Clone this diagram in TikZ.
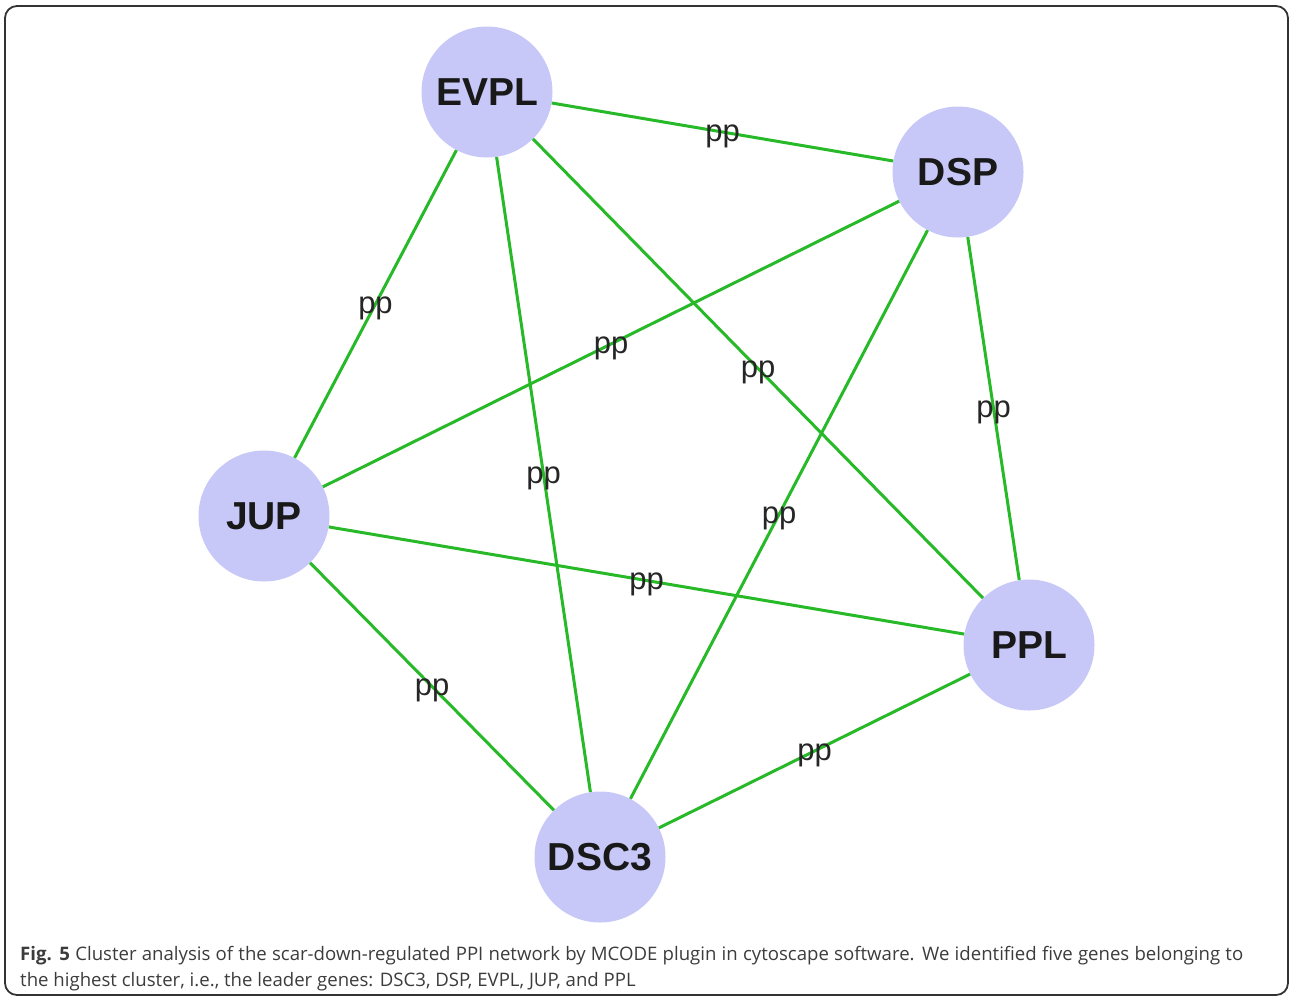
\documentclass[tikz,border=0pt]{standalone}
\usepackage{fontspec}
\setmainfont{Liberation Sans}
\newfontfamily\capfont{Open Sans}
\definecolor{nodefill}{RGB}{200,200,248}
\definecolor{edgegreen}{RGB}{40,185,40}
\definecolor{captext}{RGB}{60,60,60}
\begin{document}
\begin{tikzpicture}[x=1pt,y=-1pt,
  gene/.style={circle, fill=nodefill, minimum size=131pt, inner sep=0pt,
    font=\fontsize{39}{46}\selectfont\bfseries, text=black!90},
  link/.style={draw=edgegreen, line width=3pt},
  lbl/.style={font=\fontsize{31}{34}\selectfont, inner sep=0pt, text=black!85, yshift=-4pt},
  capline/.style={anchor=base west, inner sep=0pt, text=captext,
    font=\capfont\fontsize{18.6}{26}\selectfont}]
\useasboundingbox (0,0) rectangle (1290,997);
\draw[rounded corners=12pt, line width=1.8pt, draw=black!80] (5,6) rectangle (1288,995);
\node[gene] (evpl) at (487,92) {EVPL};
\node[gene] (dsp) at (958,172) {DSP};
\node[gene] (jup) at (264,516) {JUP};
\node[gene] (ppl) at (1029,645) {PPL};
\node[gene] (dsc3) at (600,857) {DSC3};
\draw[link] (evpl) -- node[lbl]{pp} (dsp);
\draw[link] (evpl) -- node[lbl]{pp} (jup);
\draw[link] (dsp) -- node[lbl]{pp} (jup);
\draw[link] (evpl) -- node[lbl]{pp} (ppl);
\draw[link] (dsp) -- node[lbl]{pp} (ppl);
\draw[link] (evpl) -- node[lbl]{pp} (dsc3);
\draw[link] (dsp) -- node[lbl]{pp} (dsc3);
\draw[link] (jup) -- node[lbl]{pp} (ppl);
\draw[link] (jup) -- node[lbl]{pp} (dsc3);
\draw[link] (ppl) -- node[lbl]{pp} (dsc3);
\node[capline] (cap1) at (20,960) {\makebox[1223pt][s]{\textbf{Fig. 5} Cluster analysis of the scar-down-regulated PPI network by MCODE plugin in cytoscape software. We identified five genes belonging to}};
\node[capline] (cap2) at (20,986) {the highest cluster, i.e., the leader genes: DSC3, DSP, EVPL, JUP, and PPL};
\end{tikzpicture}
\end{document}
